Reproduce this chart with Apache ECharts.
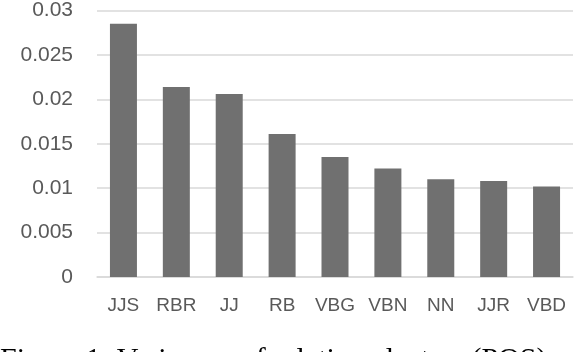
<!DOCTYPE html>
<html>
<head>
<meta charset="utf-8">
<script src="https://cdn.jsdelivr.net/npm/echarts@6/dist/echarts.min.js"></script>
<style>
  html, body { margin: 0; padding: 0; background: #fff; }
  #main { width: 574px; height: 352px; }
</style>
</head>
<body>
<div id="main"></div>
<script>
// bar chart: variance per tag
const categories = ['JJS', 'RBR', 'JJ', 'RB', 'VBG', 'VBN', 'NN', 'JJR', 'VBD'];
const variances = [0.0285, 0.0214, 0.0206, 0.0161, 0.0135, 0.0122, 0.0110, 0.0108, 0.0102];
const yTicks = [0, 0.005, 0.01, 0.015, 0.02, 0.025, 0.03];
const caption = 'Figure 1: Variances of relation clusters (POS)';

const chart = echarts.init(document.getElementById('main'));

chart.setOption({
    animation: false,
    grid: { left: 97, right: 1, top: 9, height: 268 },
    xAxis: {
        type: 'category',
        data: categories,
        axisLine: { lineStyle: { color: '#d9d9d9', width: 1.5 } },
        axisTick: { show: false },
        axisLabel: { interval: 0, color: '#595959', fontSize: 19, fontFamily: 'Liberation Sans', margin: 19 }
    },
    yAxis: {
        type: 'value',
        min: 0,
        max: yTicks[yTicks.length - 1],
        interval: 0.005,
        axisLine: { show: false },
        axisTick: { show: false },
        splitLine: { lineStyle: { color: '#d9d9d9', width: 1.5 } },
        axisLabel: {
            color: '#595959', fontSize: 21, fontFamily: 'Liberation Sans', margin: 24,
            formatter: v => String(+v.toFixed(3))
        }
    },
    series: [{
        type: 'bar',
        data: variances,
        barWidth: 27,
        itemStyle: { color: '#707070' }
    }],
    graphic: [{
        type: 'text',
        x: 0,
        y: 345,
        style: {
            text: caption, fontSize: 30, verticalAlign: 'top',
            fontFamily: 'Liberation Serif, Times New Roman, serif', fill: '#000'
        }
    }]
});
</script>
</body>
</html>
